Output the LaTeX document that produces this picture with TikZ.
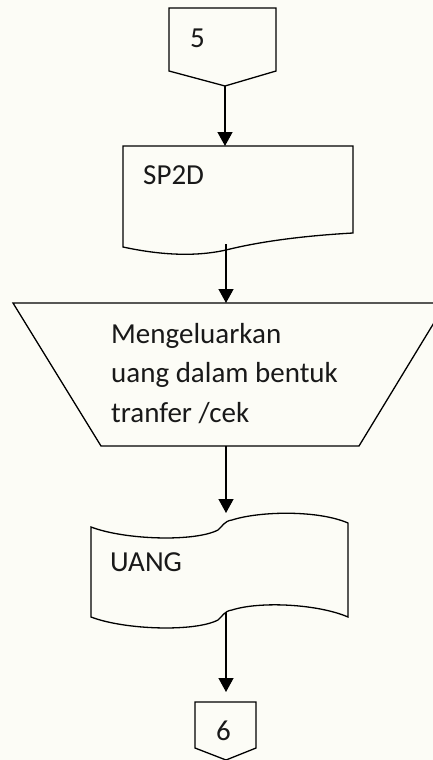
\documentclass[tikz,border=0pt]{standalone}
\usepackage{fontspec}
\setmainfont{Carlito}
\usetikzlibrary{arrows.meta}
\definecolor{paper}{RGB}{252,252,246}
\begin{document}
\begin{tikzpicture}[x=1pt,y=-1pt,
    shapeline/.style={draw=black,line width=1.3pt,line join=miter,fill=paper},
    flow/.style={draw=black,line width=1.3pt,-{Triangle[width=15pt,length=14pt]}},
    lbl/.style={anchor=base west,inner sep=0pt,text=black!90,font=\fontsize{29}{35}\selectfont}]
  % page
  \fill[paper] (0,0) rectangle (433,760);
  \useasboundingbox (0,0) rectangle (433,760);

  % off-page connector 5
  \draw[shapeline] (169,8) -- (276,8) -- (276,71) -- (225,86) -- (169,71) -- cycle;
  \coordinate (c5out) at (225,86);
  \node[lbl] (t5) at (190,48) {5};

  % document SP2D
  \draw[shapeline] (123,146) -- (353,146) -- (353,233)
     .. controls (300,236) and (258,242) .. (226,250)
     .. controls (195,257) and (160,255) .. (123,247) -- cycle;
  \coordinate (spin) at (225,146);
  \coordinate (spout) at (226,244);
  \node[lbl] (tsp) at (143,184) {SP2D};

  % manual operation (trapezoid)
  \draw[shapeline] (13,303) -- (446,303) -- (359,446) -- (101,446) -- cycle;
  \coordinate (trin) at (226,303);
  \coordinate (trout) at (226,446);
  \node[lbl] (tr1) at (111,343) {Mengeluarkan};
  \node[lbl] (tr2) at (111,382) {uang dalam bentuk};
  \node[lbl] (tr3) at (111,422) {tranfer /cek};

  % money document UANG
  \draw[shapeline] (91,527)
     .. controls (125,540) and (195,542) .. (218,530)
     .. controls (222,527) and (224,521) .. (232,520)
     .. controls (260,511) and (318,510) .. (348,523)
     -- (348,617)
     .. controls (318,604) and (260,601) .. (232,610)
     .. controls (224,611) and (222,617) .. (218,620)
     .. controls (195,632) and (125,630) .. (91,617) -- cycle;
  \coordinate (uain) at (226,513);
  \coordinate (uaout) at (226,612);
  \node[lbl] (tua) at (110,571) {UANG};

  % off-page connector 6
  \draw[shapeline] (195,702) -- (256,702) -- (256,748) -- (226,760) -- (195,748) -- cycle;
  \coordinate (c6in) at (226,692);
  \node[lbl] (t6) at (216,740) {6};

  % connectors
  \draw[flow] (c5out) -- (spin);
  \draw[flow] (spout) -- (trin);
  \draw[flow] (trout) -- (uain);
  \draw[flow] (uaout) -- (c6in);
\end{tikzpicture}
\end{document}
